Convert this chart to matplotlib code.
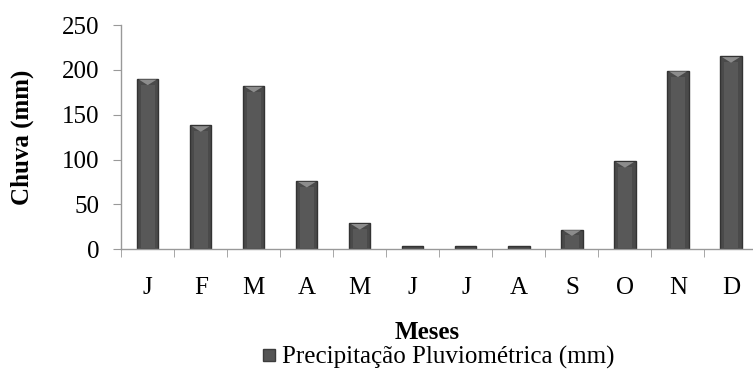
import matplotlib
matplotlib.use("Agg")
import matplotlib.pyplot as plt
from matplotlib.patches import Polygon
from matplotlib.lines import Line2D
import numpy as np

months = ["J", "F", "M", "A", "M", "J", "J", "A", "S", "O", "N", "D"]
rain = [190, 138, 182, 76, 29, 4, 4, 4, 22, 98, 199, 215]
series_name = "Precipitação Pluviométrica (mm)"
yticks = [0, 50, 100, 150, 200, 250]

plt.rcParams['font.family'] = ['Liberation Serif', 'DejaVu Serif']
FS = 18

fig = plt.figure(figsize=(7.53, 3.69), dpi=100)
ax = fig.add_axes([0.161, 0.3244, 0.845, 0.6078])

x = np.arange(len(months))
w = 0.4
bars = ax.bar(x, rain, width=w, color="#4a4a4a", edgecolor="#333333", linewidth=1.0, zorder=2)

# bevel highlight triangle at top of each bar and lighter centre stripe
for b in bars:
    bx, by = b.get_x(), b.get_height()
    bw = b.get_width()
    if by > 8:
        tri = Polygon([[bx + 0.08 * bw, by - 0.8], [bx + 0.92 * bw, by - 0.8], [bx + 0.5 * bw, by - 7]],
                      closed=True, facecolor="#8c8c8c", edgecolor="none", zorder=3)
        ax.add_patch(tri)
        ax.add_patch(plt.Rectangle((bx + 0.18 * bw, 1.5), 0.64 * bw, by - 8,
                                   facecolor="#585858", edgecolor="none", zorder=2.5))

ax.set_xlim(-0.5, len(months) - 0.5)
ax.set_ylim(0, 250)
ax.set_yticks(yticks)
ax.set_yticklabels([str(t) for t in yticks], fontsize=FS)
ax.set_xticks(x)
ax.set_xticklabels(months, fontsize=FS)
ax.set_xticks(np.arange(-0.5, len(months), 1.0), minor=True)
ax.tick_params(axis='x', which='major', length=0, pad=20)
ax.tick_params(axis='x', which='minor', length=6, color="#999999", direction='out')
ax.tick_params(axis='y', length=6, color="#999999", direction='out', pad=10)

for s in ['top', 'right']:
    ax.spines[s].set_visible(False)
for s in ['left', 'bottom']:
    ax.spines[s].set_color("#999999")
    ax.spines[s].set_linewidth(1.0)

ax.set_ylabel("Chuva (mm)", fontsize=FS, fontweight='bold', labelpad=20)
fig.text(0.567, 0.098, "Meses", fontsize=FS, fontweight='bold', ha='center', va='center')

handle = Line2D([], [], marker='s', linestyle='none', markersize=9,
                markerfacecolor="#555555", markeredgecolor="#3c3c3c")
fig.legend([handle], [series_name], loc='center', bbox_to_anchor=(0.58, 0.03),
           frameon=False, fontsize=FS, handletextpad=0.1, borderpad=0, handlelength=0.8)

fig.savefig("out.png", dpi=100)
